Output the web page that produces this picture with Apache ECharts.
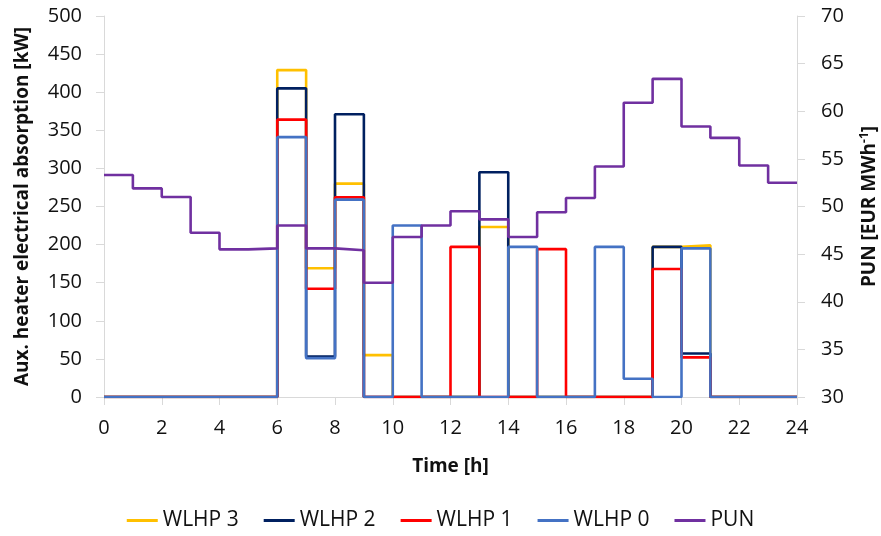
<!DOCTYPE html>
<html>
<head>
<meta charset="utf-8">
<script src="https://cdn.jsdelivr.net/npm/echarts@6/dist/echarts.min.js"></script>
<style>
  html, body { margin: 0; padding: 0; background: #fff; }
  #chart { width: 881px; height: 536px; }
</style>
</head>
<body>
<div id="chart"></div>
<script>
// hourly values, each one held from hour h to h+1
var hours = [0, 1, 2, 3, 4, 5, 6, 7, 8, 9, 10, 11, 12, 13, 14, 15, 16, 17, 18, 19, 20, 21, 22, 23, 24];
var wlhp3 = [0, 0, 0, 0, 0, 0, 429, 169, 280, 55, 0, 0, 0, 223, 0, 0, 0, 0, 0, 197, 199, 0, 0, 0];
var wlhp2 = [0, 0, 0, 0, 0, 0, 405, 53, 371, 0, 0, 0, 0, 295, 0, 0, 0, 0, 0, 197, 57, 0, 0, 0];
var wlhp1 = [0, 0, 0, 0, 0, 0, 364, 142, 262, 0, 0, 0, 197, 0, 0, 194, 0, 0, 0, 168, 52, 0, 0, 0];
var wlhp0 = [0, 0, 0, 0, 0, 0, 341, 51, 259, 0, 225, 0, 0, 0, 197, 0, 0, 197, 24, 0, 195, 0, 0, 0];
var pun = [53.3, 51.9, 51.0, 47.25, 45.5, 45.6, 48.0, 45.6, 45.4, 42.0, 46.8, 48.0, 49.5, 48.65, 46.8, 49.4, 50.9, 54.2, 60.9, 63.4, 58.4, 57.2, 54.3, 52.5];

var font = 'Open Sans';

// pair values with hours, last value repeated at 24 so the final step is drawn
function steps(vals) {
  var out = [];
  for (var i = 0; i < hours.length; i++) {
    out.push([hours[i], vals[Math.min(i, vals.length - 1)]]);
  }
  return out;
}

function line(name, color, vals, yIdx) {
  return {
    name: name,
    type: 'line',
    step: 'end',
    yAxisIndex: yIdx,
    showSymbol: false,
    data: steps(vals),
    lineStyle: { color: color, width: 2.6 },
    itemStyle: { color: color }
  };
}

var axisGray = '#d9d9d9';

var chart = echarts.init(document.getElementById('chart'));
chart.setOption({
  animation: false,
  textStyle: { fontFamily: font },
  grid: { left: 104, right: 84, top: 16, bottom: 139, outerBoundsMode: 'none' },
  legend: {
    bottom: 0,
    left: 'center',
    icon: 'rect',
    itemWidth: 31,
    itemHeight: 3,
    itemGap: 25,
    textStyle: { fontFamily: font, fontSize: 21, color: '#111' },
    data: ['WLHP 3', 'WLHP 2', 'WLHP 1', 'WLHP 0', 'PUN']
  },
  xAxis: {
    type: 'value',
    min: 0,
    max: 24,
    interval: 2,
    name: 'Time [h]',
    nameLocation: 'middle',
    nameGap: 60,
    nameTextStyle: { fontFamily: font, fontSize: 19, fontWeight: 'bold', color: '#111' },
    axisLine: { show: true, lineStyle: { color: axisGray } },
    axisTick: { show: true, length: 8, lineStyle: { color: axisGray } },
    splitLine: { show: false },
    axisLabel: { margin: 21, fontSize: 20, color: '#111', fontFamily: font }
  },
  yAxis: [{
    type: 'value',
    min: 0,
    max: 500,
    interval: 50,
    name: 'Aux. heater electrical absorption [kW]',
    nameLocation: 'middle',
    nameRotate: 90,
    nameGap: 72,
    nameTextStyle: { fontFamily: font, fontSize: 19, fontWeight: 'bold', color: '#111' },
    axisLine: { show: true, lineStyle: { color: axisGray } },
    axisTick: { show: true, length: 8, lineStyle: { color: axisGray } },
    splitLine: { show: false },
    axisLabel: { margin: 22, fontSize: 20, color: '#111', fontFamily: font }
  }, {
    type: 'value',
    position: 'right',
    min: 30,
    max: 70,
    interval: 5,
    name: '{a|PUN [EUR MWh}{s|-1}{a|]}',
    nameLocation: 'middle',
    nameRotate: 90,
    nameGap: 62,
    nameTextStyle: {
      fontFamily: font, fontSize: 19, fontWeight: 'bold', color: '#111',
      rich: {
        a: { fontFamily: font, fontSize: 19, fontWeight: 'bold', color: '#111', lineHeight: 22 },
        s: { fontFamily: font, fontSize: 12, fontWeight: 'bold', color: '#111', verticalAlign: 'top', lineHeight: 22 }
      }
    },
    axisLine: { show: true, lineStyle: { color: axisGray } },
    axisTick: { show: true, length: 8, lineStyle: { color: axisGray } },
    splitLine: { show: false },
    axisLabel: { margin: 24, fontSize: 20, color: '#111', fontFamily: font }
  }],
  series: [
    line('WLHP 3', '#FFC000', wlhp3, 0),
    line('WLHP 2', '#002060', wlhp2, 0),
    line('WLHP 1', '#FF0000', wlhp1, 0),
    line('WLHP 0', '#4472C4', wlhp0, 0),
    line('PUN', '#7030A0', pun, 1)
  ]
});
</script>
</body>
</html>
